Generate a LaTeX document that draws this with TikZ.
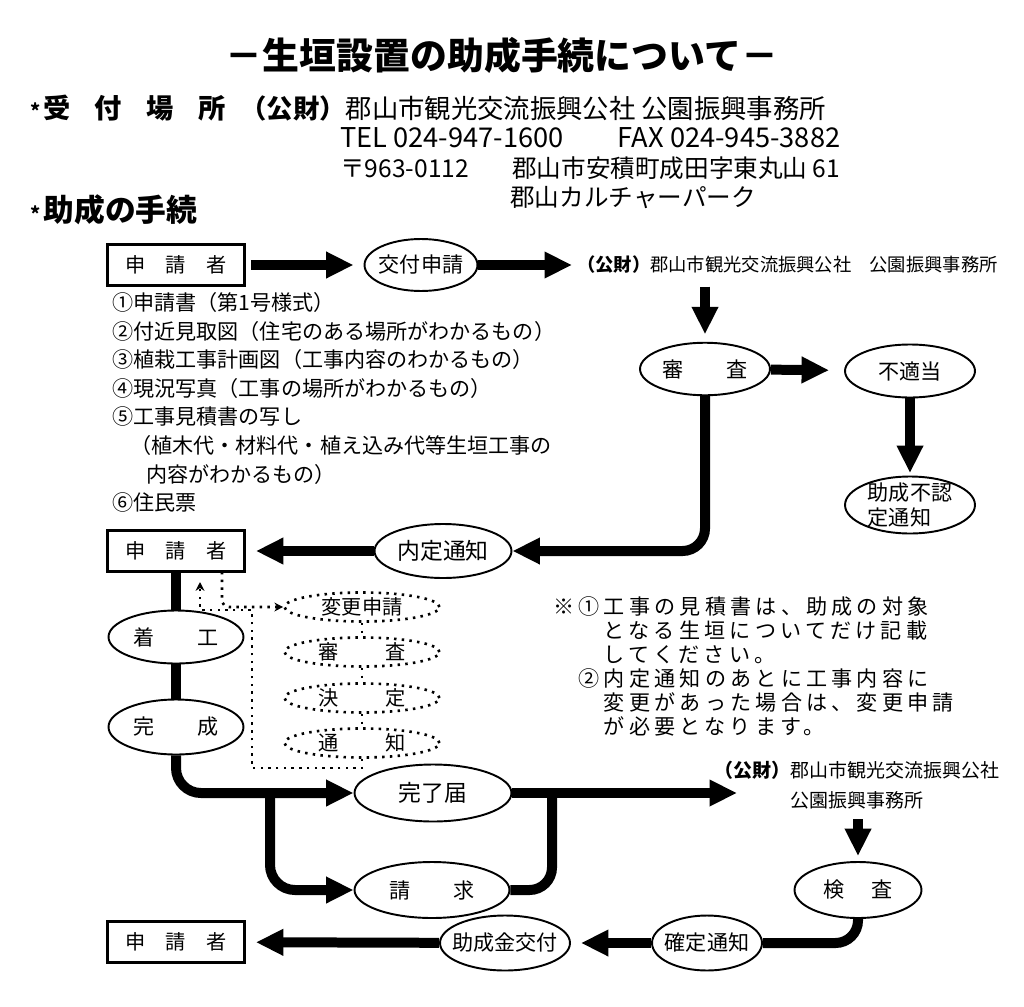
\documentclass[tikz,border=0pt]{standalone}
\usepackage{fontspec}
\setmainfont{Noto Sans CJK JP}
\newfontfamily\notefont[LetterSpace=20]{Noto Sans CJK JP}
\usetikzlibrary{arrows.meta,shapes.geometric}

\begin{document}
\begin{tikzpicture}[x=0.02cm, y=-0.02cm,
    txt/.style={inner sep=0pt},
    appbox/.style={draw, line width=1.6pt, minimum width=2.74cm, minimum height=0.82cm, inner sep=0pt, font=\fontsize{11.5}{13}\selectfont},
    oval/.style={draw, ellipse, line width=1.1pt, fill=white, inner xsep=-0.3cm, inner ysep=-0.1cm, minimum width=2.6cm, minimum height=1.05cm, font=\fontsize{12}{14}\selectfont},
    dotoval/.style={draw, ellipse, line width=1.5pt, dash pattern=on 1.4pt off 3pt, inner xsep=-0.2cm, inner ysep=-0.1cm, minimum width=3.1cm, minimum height=0.58cm, font=\fontsize{11.5}{13}\selectfont},
    bigarrow/.style={line width=0.2cm, -{Triangle[length=0.55cm, width=0.5cm]}},
    thickline/.style={line width=0.2cm},
    dotline/.style={line width=1.5pt, dash pattern=on 1.4pt off 3pt},
    smalltip/.style={-{Stealth[length=5pt, width=5pt]}}]

    % 背景
    \fill[white] (0,0) rectangle (1024,1007);

    % 見出し
    \node[txt, font=\bfseries\fontsize{21}{24}\selectfont] (title) at (502,55) {－生垣設置の助成手続について－};
    \node[txt, anchor=west, font=\bfseries\fontsize{15.5}{18}\selectfont] (recv) at (30,108) {\makebox[3.9cm][s]{{\fontsize{11}{12}\selectfont *}\hspace{0.1em}受\hfill 付\hfill 場\hfill 所}};
    \node[txt, anchor=west, font=\fontsize{15}{18}\selectfont] (office0) at (240,108) {\textbf{（公財）}郡山市観光交流振興公社 公園振興事務所};
    \node[txt, anchor=west, font=\fontsize{15.5}{17}\selectfont] (tel) at (340,138) {\makebox[10cm][s]{TEL 024-947-1600\hfill FAX 024-945-3882}};
    \node[txt, anchor=west, font=\fontsize{14}{16}\selectfont] (addr) at (340,168) {\makebox[10cm][s]{〒963-0112\hfill 郡山市安積町成田字東丸山 61}};
    \node[txt, anchor=west, font=\fontsize{14}{16}\selectfont] (park) at (510,198) {郡山カルチャーパーク};
    \node[txt, anchor=west, font=\bfseries\fontsize{17.5}{20}\selectfont] (proc) at (30,210) {{\fontsize{11}{12}\selectfont *}\hspace{0.1em}助成の手続};

    % 申請
    \node[appbox] (app1) at (176,265) {申　請　者};
    \node[oval, minimum width=2.26cm, minimum height=1.04cm] (kofu) at (421,265) {交付申請};
    \node[txt, anchor=west, font=\fontsize{10.4}{12}\selectfont] (office1) at (577,265) {\textbf{（公財）}郡山市観光交流振興公社　公園振興事務所};
    \node[txt, anchor=north west, align=left, font=\fontsize{12}{16.3}\selectfont] (docs) at (112,292) {①申請書（第1号様式）\\
        ②付近見取図（住宅のある場所がわかるもの）\\
        ③植栽工事計画図（工事内容のわかるもの）\\
        ④現況写真（工事の場所がわかるもの）\\
        ⑤工事見積書の写し\\
        \hspace*{0.85em}（植木代・材料代・植え込み代等生垣工事の\\
        \hspace*{1.6em}内容がわかるもの）\\
        ⑥住民票};

    % 審査
    \node[oval] (shinsa) at (705,369) {審　　査};
    \node[oval, minimum height=1.06cm] (futeki) at (910,371) {不適当};
    \node[oval, minimum height=1.14cm, inner ysep=-0.25cm, align=left, font=\fontsize{12}{14}\selectfont] (fuyo) at (910,505) {助成不認\\定通知};
    \node[oval, minimum width=2.74cm, minimum height=1.08cm, font=\fontsize{13}{15}\selectfont] (naitei) at (443,551) {内定通知};

    % 工事
    \node[appbox] (app2) at (176,551) {申　請　者};
    \node[oval, minimum width=2.7cm, minimum height=1.06cm] (chakko) at (176,637) {着　　工};
    \node[oval, minimum width=2.7cm, minimum height=1.1cm] (kansei) at (176,727) {完　　成};

    % 変更申請
    \node[dotoval] (henko) at (362,607) {変更申請};
    \node[dotoval] (shinsa2) at (362,652) {審\hspace{2.3em}査};
    \node[dotoval] (kettei) at (362,698) {決\hspace{2.3em}定};
    \node[dotoval] (tsuchi) at (362,743) {通\hspace{2.3em}知};

    % 注意書き
    \node[txt, anchor=north west, align=left, font=\notefont\fontsize{12}{13.7}\selectfont] (note) at (553,596) {※①工事の見積書は、助成の対象\\
        　　となる生垣についてだけ記載\\
        　　してください。\\
        　②内定通知のあとに工事内容に\\
        　　変更があった場合は、変更申請\\
        　　が必要となります。};

    % 完了・請求
    \node[oval, minimum width=3.14cm, minimum height=1.14cm, font=\fontsize{13}{15}\selectfont] (kanryo) at (433,793) {完了届};
    \node[oval, minimum width=3.1cm, minimum height=1.12cm] (seikyu) at (432,890) {請　　求};
    \node[txt, align=center, font=\fontsize{10.8}{17}\selectfont] (office2) at (857,785) {\textbf{（公財）}郡山市観光交流振興公社\\公園振興事務所};
    \node[oval, minimum width=2.54cm, minimum height=1.12cm] (kensa) at (858,890) {検\hspace{1.3em}査};
    \node[oval, minimum width=2.2cm, minimum height=1.1cm] (kakutei) at (707,943) {確定通知};
    \node[oval, minimum width=2.6cm, minimum height=1.1cm] (kofukin) at (505,943) {助成金交付};
    \node[appbox] (app3) at (176,942) {申　請　者};

    % 矢印（申請から内定まで）
    \draw[bigarrow, shorten <=0.1cm, shorten >=0.2cm] (app1) -- (kofu);
    \draw[bigarrow, shorten >=0.1cm] (kofu) -- (office1);
    \draw[bigarrow, shorten <=0.25cm, shorten >=0.15cm] (shinsa |- office1.south) -- (shinsa);
    \draw[bigarrow, shorten >=0.3cm] (shinsa) -- (futeki);
    \draw[bigarrow, shorten >=0.05cm] (futeki) -- (fuyo);
    \draw[bigarrow, rounded corners=0.45cm] (shinsa) |- (naitei);
    \draw[bigarrow, shorten >=0.2cm] (naitei) -- (app2);

    % 矢印（工事から交付まで）
    \draw[thickline] (app2) -- (chakko);
    \draw[thickline] (chakko) -- (kansei);
    \draw[bigarrow, rounded corners=0.5cm] (kansei) |- (kanryo);
    \coordinate (split) at (270,793);
    \draw[bigarrow, rounded corners=0.5cm] (split) |- (seikyu);
    \coordinate (join) at (552,793);
    \draw[thickline, rounded corners=0.45cm] (seikyu) -| (join);
    \coordinate (office2in) at (737,793);
    \draw[bigarrow] (kanryo) -- (office2in);
    \draw[bigarrow, shorten <=0.2cm, shorten >=0.1cm] (kensa |- office2.south) -- (kensa);
    \draw[thickline, rounded corners=0.45cm] (kensa) |- (kakutei);
    \draw[bigarrow, shorten >=0.2cm] (kakutei) -- (kofukin);
    \draw[bigarrow, shorten >=0.2cm] (kofukin) -- (app3);

    % 点線（変更申請）
    \draw[dotline] (henko) -- (shinsa2);
    \draw[dotline] (shinsa2) -- (kettei);
    \draw[dotline] (kettei) -- (tsuchi);
    \coordinate (chgout) at (222,572);
    \coordinate (chgback) at (200,572);
    \draw[dotline, smalltip, rounded corners=4pt] (chgout) |- (henko);
    \draw[dotline, smalltip, shorten >=0.2cm] (tsuchi) |- (252,768) |- (200,610) -- (chgback);
\end{tikzpicture}
\end{document}
